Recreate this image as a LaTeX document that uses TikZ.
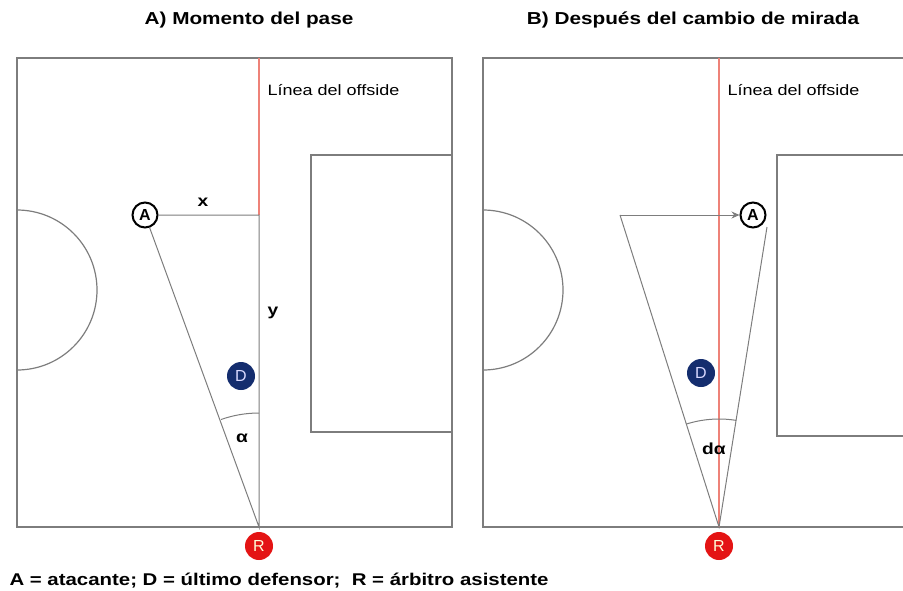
\documentclass[tikz,border=0pt]{standalone}
\usepackage{fontspec}
\setmainfont[FakeStretch=1.2]{Liberation Sans}
\newfontfamily\discfont{Liberation Sans}
\usetikzlibrary{positioning,arrows.meta}

\definecolor{fieldgray}{RGB}{125,125,125}
\definecolor{offred}{RGB}{238,130,120}
\definecolor{defblue}{RGB}{20,45,110}
\definecolor{refred}{RGB}{228,20,20}

\begin{document}
\begin{tikzpicture}[
        x=1pt, y=-1pt,
        field/.style={
            draw=fieldgray,
            line width=1.2pt
        },
        offside/.style={
            draw=offred,
            line width=1.1pt
        },
        player/.style={
            circle,
            inner sep=0pt,
            minimum size=28pt,
            font=\discfont\fontsize{16}{18}\selectfont
        },
        attacker/.style={
            player,
            draw,
            fill=white,
            minimum size=25pt,
            line width=2pt,
            font=\discfont\fontsize{16}{18}\selectfont\bfseries
        },
        defender/.style={
            player,
            fill=defblue,
            text=white!85!blue
        },
        referee/.style={
            player,
            fill=refred,
            text=white!85!yellow
        },
        title/.style={
            font=\fontsize{17.3}{20}\selectfont\bfseries
        },
        label/.style={
            font=\fontsize{15}{18}\selectfont
        },
        sign/.style={
            font=\fontsize{16}{18}\selectfont\bfseries
        }
    ]
        \useasboundingbox (0,0) rectangle (903,590);

        % A) Momento del pase
        \node[title] (titleA) at (249,20) {A) Momento del pase};
        \draw[field] (17,58) rectangle (452,527);
        \draw[field] (311,155) rectangle (452,432);
        \draw[field] (17,210) arc (-90:90:80);
        \draw[offside] (259,58) -- (259,215);
        \node[label, right] (lineA) at (264,90) {Línea del offside};

        \node[attacker] (attA)  at (145,215) {A};
        \node[defender] (defA)  at (241,376) {D};
        \node[referee]  (refA)  at (259,546) {R};
        \coordinate     (cornA) at (259,215);
        \coordinate     (baseA) at (259,527);

        \draw[field, line width=1pt] (attA) -- (cornA) -- (baseA) -- (attA);
        \draw[field, line width=1pt] (baseA) ++(-90:114) arc (-90:-109.4:114);
        \node[sign] (labx) at (203,202) {x};
        \node[sign] (laby) at (273,313) {y};
        \node[sign] (alpha) at (242,438) {α};

        % B) Despues del cambio de mirada
        \node[title] (titleB) at (693,20) {B) Después del cambio de mirada};
        \draw[field] (483,58) rectangle (910,527);
        \draw[field] (777,155) rectangle (910,436);
        \draw[field] (483,210) arc (-90:90:80);
        \draw[offside] (719,58) -- (719,527);
        \node[label, right] (lineB) at (724,90) {Línea del offside};

        \node[attacker] (attB)  at (753,215) {A};
        \node[defender] (defB)  at (701,373) {D};
        \node[referee]  (refB)  at (719,546) {R};
        \coordinate     (startB) at (620,215);
        \coordinate     (tipB)   at (767,227);
        \coordinate     (baseB)  at (719,527);

        \draw[field, line width=1pt, -{Stealth[length=8pt, width=7pt]}] (startB) -- (attB);
        \draw[field, line width=1pt] (startB) -- (baseB) -- (tipB);
        \draw[field, line width=1pt] (baseB) ++(-80.9:108) arc (-80.9:-107.6:108);
        \node[sign] (dalpha) at (714,449) {dα};

        % legend
        \node[title, font=\fontsize{17}{20}\selectfont\bfseries, anchor=west] (legend) at (6,581)
            {A = atacante; D = último defensor;\ \ R = árbitro asistente};
    \end{tikzpicture}
\end{document}
